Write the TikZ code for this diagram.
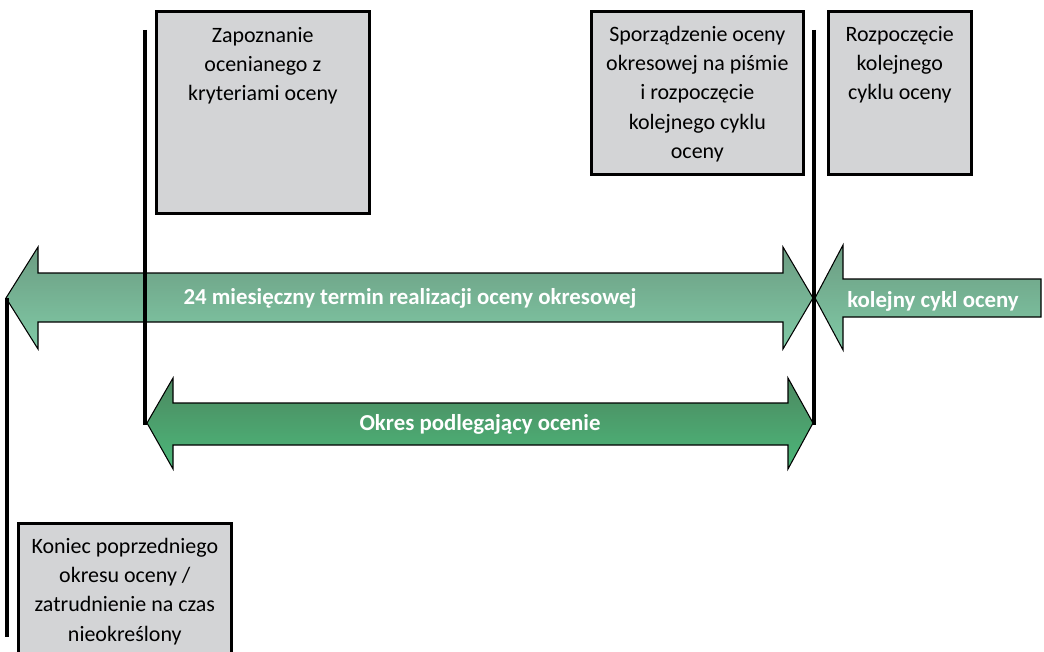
\documentclass[tikz,border=0pt]{standalone}
\usepackage{fontspec}
\setmainfont{Carlito}
\usetikzlibrary{positioning}
\definecolor{szary}{RGB}{211,212,214}
\definecolor{jasnyA}{RGB}{108,156,130}
\definecolor{jasnyB}{RGB}{128,202,166}
\definecolor{ciemnyA}{RGB}{76,136,96}
\definecolor{ciemnyB}{RGB}{76,184,122}
\tikzset{
  kratka/.style={draw=black,line width=1.5pt,fill=szary,anchor=north west,inner sep=0pt},
  opis/.style={align=center,font=\fontsize{12.5}{16.6}\selectfont,anchor=north,inner sep=0pt},
  strzalka/.style={draw=black,line width=0.6pt},
  napis/.style={text=white,font=\fontsize{13}{16}\selectfont\bfseries},
  kreska/.style={line width=2.8pt}
}
\begin{document}
\begin{tikzpicture}[x=0.02cm,y=-0.02cm]
\useasboundingbox (0,0) rectangle (1044,652);
% prostokaty
\node[kratka,minimum width=213*0.02cm,minimum height=202*0.02cm] (b1) at (155,10) {};
\node[kratka,minimum width=212*0.02cm,minimum height=163*0.02cm] (b2) at (590,10) {};
\node[kratka,minimum width=143*0.02cm,minimum height=163*0.02cm] (b3) at (827,10) {};
\node[kratka,minimum width=213*0.02cm,minimum height=140*0.02cm] (b4) at (17,522) {};
\node[opis] (t1) at ([yshift=-0.34cm]b1.north) {Zapoznanie\\ ocenianego z\\ kryteriami oceny};
\node[opis] (t2) at ([yshift=-0.32cm]b2.north) {Sporządzenie oceny\\ okresowej na piśmie\\ i rozpoczęcie\\ kolejnego cyklu\\ oceny};
\node[opis] (t3) at ([yshift=-0.32cm]b3.north) {Rozpoczęcie\\ kolejnego\\ cyklu oceny};
\node[opis] (t4) at ([yshift=-0.32cm]b4.north) {Koniec poprzedniego\\ okresu oceny /\\ zatrudnienie na czas\\ nieokreślony};

% strzalki
\draw[strzalka,top color=jasnyA,bottom color=jasnyB] (6,298)--(38,247)--(38,273)--(783,273)--(783,247)--(813,298)--(783,349)--(783,322)--(38,322)--(38,349)--cycle;
\draw[strzalka,top color=jasnyA,bottom color=jasnyB] (815,298)--(843,245)--(843,279)--(1041,279)--(1041,317)--(843,317)--(843,350)--cycle;
\draw[strzalka,top color=ciemnyA,bottom color=ciemnyB] (147,423)--(173,378)--(173,403)--(788,403)--(788,378)--(813,423)--(788,469)--(788,445)--(173,445)--(173,469)--cycle;
\node[napis] (s1) at (410,298) {24 miesięczny termin realizacji oceny okresowej};
\node[napis] (s2) at (933,301) {kolejny cykl oceny};
\node[napis] (s3) at (480,424) {Okres podlegający ocenie};

% linie pionowe
\draw[kreska] (7,298)--(7,637);
\draw[kreska] (145,30)--(145,425);
\draw[kreska] (814,30)--(814,425);
\end{tikzpicture}
\end{document}
